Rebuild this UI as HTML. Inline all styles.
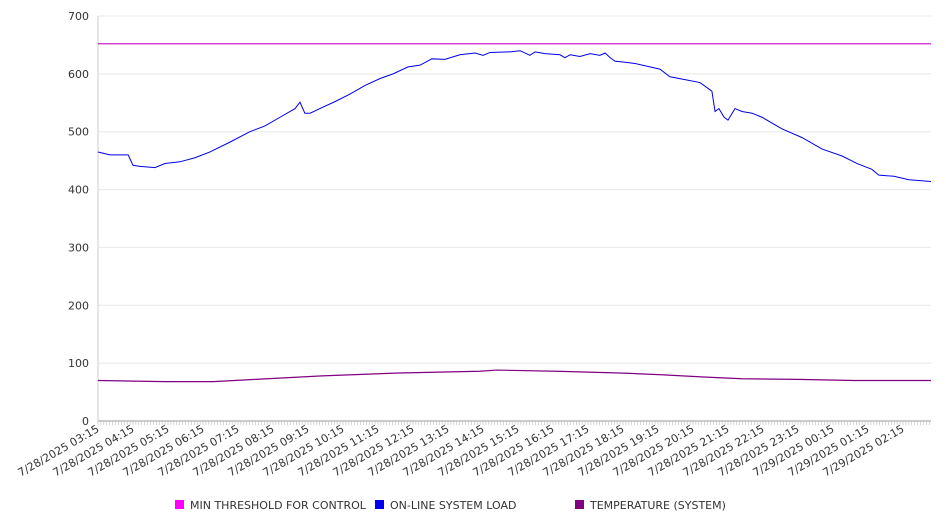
<!DOCTYPE html>
<html><head><meta charset="utf-8"><style>
body{margin:0;background:#fff;}
svg{display:block;font-family:"DejaVu Sans","Liberation Sans",sans-serif;}
</style></head><body>
<svg id="chart" width="946" height="526"></svg>
<script>
const hours = [0,0.34,0.86,1.0,1.2,1.63,1.91,2.34,2.77,3.2,3.77,4.34,4.77,5.2,5.63,5.77,5.91,6.06,6.34,6.77,7.2,7.63,8.06,8.43,8.86,9.2,9.54,9.91,10.34,10.77,11.0,11.2,11.77,12.06,12.34,12.49,12.77,13.2,13.34,13.49,13.77,14.06,14.34,14.49,14.63,14.77,15.06,15.34,15.77,16.06,16.34,16.77,17.2,17.54,17.63,17.74,17.89,18.0,18.2,18.4,18.69,18.97,19.54,20.11,20.69,21.26,21.69,22.11,22.31,22.74,23.17,23.8];
const loadValues = [465,460,460,442,440,438,445,448,455,465,482,500,510,525,540,551,532,532,540,552,565,580,592,600,612,615,626,625,633,636,632,637,638,640,632,638,635,633,628,633,630,635,632,636,628,622,620,618,612,608,595,590,585,570,535,540,525,520,540,535,532,525,505,490,470,458,445,435,425,423,417,414];
const tempHours = [0,1.9,3.3,4.5,6.4,8.6,10.9,11.4,13.1,14.9,16.1,17.3,18.4,20.0,21.6,23.3,23.8];
const tempValues = [70,68,68,72,78,83,86,88,86,83,80,76,73,72,70,70,70];
const thresholdValue = 652;
const yTicks = [0,100,200,300,400,500,600,700];
const xLabels = ["7/28/2025 03:15","7/28/2025 04:15","7/28/2025 05:15","7/28/2025 06:15","7/28/2025 07:15","7/28/2025 08:15","7/28/2025 09:15","7/28/2025 10:15","7/28/2025 11:15","7/28/2025 12:15","7/28/2025 13:15","7/28/2025 14:15","7/28/2025 15:15","7/28/2025 16:15","7/28/2025 17:15","7/28/2025 18:15","7/28/2025 19:15","7/28/2025 20:15","7/28/2025 21:15","7/28/2025 22:15","7/28/2025 23:15","7/29/2025 00:15","7/29/2025 01:15","7/29/2025 02:15"];
const legendItems = ["MIN THRESHOLD FOR CONTROL","ON-LINE SYSTEM LOAD","TEMPERATURE (SYSTEM)"];
const legendColors = ["#ff00ff","#0000ee","#800080"];

const NS="http://www.w3.org/2000/svg";
const svg=document.getElementById('chart');
const X0=98,X1=931,Y0=421,Y1=16,HMAX=23.8;
const xs=h=>X0+(h/HMAX)*(X1-X0);
const ys=v=>Y0-(v/700)*(Y0-Y1);
function mk(t,a){const e=document.createElementNS(NS,t);for(const k in a)e.setAttribute(k,a[k]);svg.appendChild(e);return e;}

yTicks.forEach(v=>{
  const g=mk('line',{x1:X0,x2:X1,y1:ys(v),y2:ys(v),stroke:v===0?'#999':'#e8e8e8','stroke-width':1});
  
  
  const t=mk('text',{x:89,y:ys(v)+4,'text-anchor':'end','font-size':11,fill:'#333'});
  t.textContent=v;
  
  
});
const ax=mk('line',{x1:X0,x2:X0,y1:Y1,y2:Y0,stroke:'#ccc'});


for(let m=0;m<=HMAX*60;m+=5){
  const tk=mk('line',{x1:xs(m/60),x2:xs(m/60),y1:Y0,y2:Y0+4,stroke:'#bbb','stroke-width':0.6});
  
  
}
xLabels.forEach((l,i)=>{
  const x=xs(i)+2,y=Y0+10;
  const t=mk('text',{x:x,y:y,'text-anchor':'end','font-size':11,fill:'#333',transform:`rotate(-30 ${x} ${y})`});
  t.textContent=l;
  
  
});
const th=mk('line',{x1:X0,x2:X1,y1:ys(thresholdValue),y2:ys(thresholdValue),stroke:'#cc22cc','stroke-width':1.2});


const lp=mk('polyline',{points:hours.map((h,i)=>xs(h)+','+ys(loadValues[i])).join(' '),fill:'none',stroke:'#0000ee','stroke-width':1});


const tp=mk('polyline',{points:tempHours.map((h,i)=>xs(h)+','+ys(tempValues[i])).join(' '),fill:'none',stroke:'#800080','stroke-width':1.2});


const lx=[175,375,575];
legendItems.forEach((l,i)=>{
  const r=mk('rect',{x:lx[i],y:500,width:9,height:9,fill:legendColors[i]});
  
  
  const t=mk('text',{x:lx[i]+15,y:509,'font-size':11,fill:'#333'});
  t.textContent=l;
  
  
});
</script>
</body></html>
